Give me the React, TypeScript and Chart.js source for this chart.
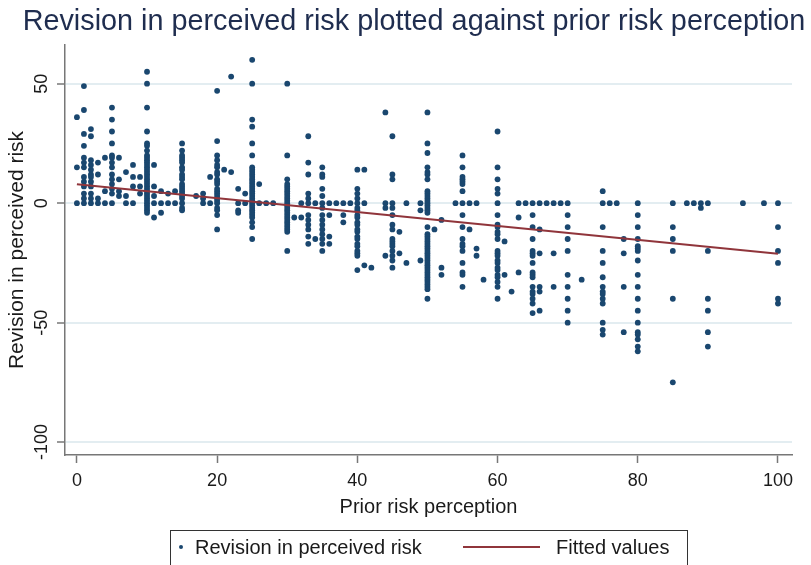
import React, { useEffect, useRef } from 'react';
import { Chart, registerables } from 'chart.js';

Chart.register(...registerables);

const titleText = 'Revision in perceived risk plotted against prior risk perception';
const xAxisLabel = 'Prior risk perception';
const yAxisLabel = 'Revision in perceived risk';
const seriesName = 'Revision in perceived risk';
const fitName = 'Fitted values';

const xTicks = [0, 20, 40, 60, 80, 100];
const yTicks = [-100, -50, 0, 50];

// prior risk perception values (x) and the revisions observed at each (y)
const priorRisk = [
  0, 1, 2, 3, 4, 5, 6, 7, 8, 9, 10, 11, 12, 13, 14, 15, 17, 18, 19, 20, 21, 22, 23, 24, 25, 26, 27, 28,
  30, 31, 32, 33, 34, 35, 36, 37, 38, 39, 40, 41, 42, 44, 45, 46, 47, 49, 50, 51, 52, 54, 55, 56, 57, 58,
  60, 61, 62, 63, 64, 65, 66, 67, 68, 69, 70, 72, 75, 76, 77, 78, 80, 85, 87, 88, 89, 90, 95, 98, 100,
];

const revision = [
  [36, 15, 0],
  [49, 39, 29, 24, 19, 17, 15, 11, 9, 7, 4, 2, 0],
  [31, 28, 18, 16, 14, 12, 11, 9, 7, 4, 2, 0],
  [17, 12, 2, 0],
  [19, 5, 0],
  [40, 35, 30, 25, 20, 19, 17, 15, 12, 10, 8, 6, 4, 0],
  [19, 10, 5, 3],
  [13, 3, 0],
  [16, 11, 7, 0],
  [11, 7, 4],
  [55, 50, 40, 30, 25, 24, 22, 20, 19, 18, 17, 16, 15, 14, 13, 12, 11, 10, 9, 8, 7, 6, 5, 4, 3, 2, 1, 0, -1, -2, -3, -4],
  [16, 7, 3, 0, -6],
  [5, 0, -4],
  [4, 0],
  [5, 0],
  [25, 22, 20, 19, 18, 17, 15, 14, 12, 11, 10, 8, 7, 6, 5, 4, 3, 2, 0, -2, -3],
  [3],
  [4, 2, 0],
  [11, 0],
  [47, 26, 20, 18, 16, 15, 13, 12, 10, 9, 8, 6, 5, 4, 3, 2, 1, 0, -2, -3, -5, -11],
  [14],
  [53, 13],
  [6, 0, -3, -4],
  [4, 0],
  [60, 50, 35, 32, 25, 20, 15, 14, 13, 12, 11, 10, 9, 8, 7, 6, 5, 4, 3, 2, 1, 0, -1, -2, -3, -4, -5, -6, -8, -10, -15],
  [8, 0],
  [0],
  [0],
  [50, 20, 10, 8, 7, 6, 5, 4, 3, 2, 1, 0, -1, -2, -3, -4, -5, -6, -7, -8, -9, -10, -11, -12, -20],
  [-6],
  [0, -6],
  [28, 17, 12, 4, 2, 0, -5, -7, -9, -11, -14, -17],
  [0, -15],
  [15, 12, 11, 6, 3, 0, -2, -5, -7, -9, -11, -13, -15, -17, -20],
  [0, -5, -14, -17],
  [0],
  [0, -5, -8],
  [0],
  [14, 6, 4, 2, 0, -2, -3, -5, -6, -8, -9, -11, -12, -14, -15, -17, -18, -20, -21, -22, -28],
  [14, 0, -26],
  [-27],
  [38, 0, -2, -22],
  [28, 12, 10, 0, -2, -5, -9, -11, -15, -16, -17, -18, -20, -22, -24, -27],
  [-12, -21],
  [0, -25],
  [0, -3, -24],
  [38, 25, 21, 15, 13, 12, 10, 5, 4, 3, 2, 1, 0, -1, -2, -3, -4, -10, -13, -14, -15, -16, -17, -18, -19, -20, -21, -22, -23, -24, -25, -26, -27, -28, -29, -30, -31, -32, -33, -34, -35, -36, -40],
  [-11],
  [-7, -27, -30],
  [0],
  [20, 15, 11, 10, 9, 8, 5, 0, -5, -10, -15, -17, -18, -20, -25, -29, -30, -35],
  [0, -11],
  [0, -19, -22],
  [-32],
  [30, 15, 10, 6, 4, 0, -5, -9, -10, -12, -13, -15, -20, -21, -22, -24, -25, -27, -28, -30, -31, -33, -35, -40],
  [-16, -30],
  [-37],
  [0, -6, -29],
  [0],
  [0, -5, -10, -15, -20, -21, -22, -25, -29, -30, -31, -35, -37, -38, -40, -42, -46],
  [0, -11, -21, -35, -37, -45],
  [0],
  [0, -21, -35],
  [0],
  [0, -5, -10, -15, -20, -30, -35, -40, -45, -50],
  [-32],
  [5, 0, -10, -20, -25, -31, -35, -37, -38, -40, -42, -50, -53, -55],
  [0],
  [0],
  [-15, -21, -35, -54],
  [0, -5, -10, -15, -18, -19, -20, -24, -30, -35, -40, -45, -50, -54, -55, -57, -60, -62],
  [0, -10, -15, -20, -40, -75],
  [0],
  [0],
  [0, -2],
  [0, -20, -40, -45, -54, -60],
  [0],
  [0],
  [0, -10, -20, -25, -40, -42],
];

const fitX = [0, 100];
const fitY = [7.9, -21.2];

const FONT = "'Liberation Sans', Arial, sans-serif";
const markerColor = '#1a476f';
const fitColor = '#90353b';
const textColor = '#1a1a1a';

const overlayPlugin = {
  id: 'overlay',
  afterDraw(chart: any) {
    const ctx = chart.ctx;
    const yScale = chart.scales.y;
    ctx.save();
    // title
    ctx.fillStyle = '#1f2d4f';
    ctx.font = `28.8px ${FONT}`;
    ctx.textAlign = 'center';
    ctx.textBaseline = 'middle';
    ctx.fillText(titleText, 414, 22);
    // rotated y tick labels
    ctx.fillStyle = textColor;
    ctx.font = `18px ${FONT}`;
    yTicks.forEach((v) => {
      const py = yScale.getPixelForValue(v);
      ctx.save();
      ctx.translate(42, py);
      ctx.rotate(-Math.PI / 2);
      ctx.fillText(String(v), 0, 0);
      ctx.restore();
    });
    // legend box
    ctx.strokeStyle = '#333';
    ctx.lineWidth = 1;
    ctx.strokeRect(170.5, 530.5, 517, 60);
    ctx.fillStyle = markerColor;
    ctx.beginPath();
    ctx.arc(181, 547, 2, 0, Math.PI * 2);
    ctx.fill();
    ctx.fillStyle = textColor;
    ctx.font = `20px ${FONT}`;
    ctx.textAlign = 'left';
    ctx.textBaseline = 'middle';
    ctx.fillText(chart.data.datasets[0].label, 195, 548);
    ctx.strokeStyle = fitColor;
    ctx.lineWidth = 2;
    ctx.beginPath();
    ctx.moveTo(463, 547);
    ctx.lineTo(540, 547);
    ctx.stroke();
    ctx.fillText(chart.data.datasets[1].label, 556, 548);
    ctx.restore();
  },
};

export default function App() {
  const ref = useRef<HTMLCanvasElement | null>(null);
  useEffect(() => {
    if (!ref.current) return;
    const points = priorRisk.flatMap((x, i) => revision[i].map((y) => ({ x, y })));
    const fit = fitX.map((x, i) => ({ x, y: fitY[i] }));
    const chart = new Chart(ref.current, {
      type: 'scatter',
      data: {
        datasets: [
          {
            label: seriesName,
            data: points,
            pointRadius: 2.9,
            pointBackgroundColor: markerColor,
            pointBorderColor: markerColor,
            pointBorderWidth: 0,
            showLine: false,
            order: 1,
          },
          {
            type: 'line',
            label: fitName,
            data: fit,
            borderColor: fitColor,
            borderWidth: 2,
            pointRadius: 0,
            showLine: true,
            fill: false,
            order: 0,
          } as any,
        ],
      },
      options: {
        animation: false,
        responsive: false,
        devicePixelRatio: 1,
        layout: { padding: { left: 0, right: 19, top: 45, bottom: 44 } },
        plugins: {
          legend: { display: false },
          tooltip: { enabled: false },
          title: { display: false },
        },
        scales: {
          x: {
            type: 'linear',
            min: -1.7,
            max: 102,
            afterBuildTicks: (s: any) => {
              s.ticks = xTicks.map((v) => ({ value: v }));
            },
            afterFit: (s: any) => {
              s.height = 66;
            },
            grid: { display: true, drawOnChartArea: false, drawTicks: true, tickLength: 8, tickColor: '#777', tickWidth: 1.5 },
            border: { display: true, color: '#777', width: 1.5 },
            ticks: { color: textColor, font: { family: FONT, size: 18 }, padding: 7, maxRotation: 0 },
            title: {
              display: true,
              text: xAxisLabel,
              color: textColor,
              font: { family: FONT, size: 20 },
              padding: { top: 4, bottom: 2 },
            },
          },
          y: {
            type: 'linear',
            min: -105.4,
            max: 66.2,
            afterBuildTicks: (s: any) => {
              s.ticks = yTicks.map((v) => ({ value: v }));
            },
            afterFit: (s: any) => {
              s.width = 65;
            },
            grid: { display: true, color: '#e3edf1', lineWidth: 2, drawTicks: true, tickLength: 8, tickColor: '#777', tickWidth: 1.5 },
            border: { display: true, color: '#777', width: 1.5 },
            ticks: { display: false },
            title: {
              display: true,
              text: yAxisLabel,
              color: textColor,
              font: { family: FONT, size: 21 },
              padding: { top: 5, bottom: 0 },
            },
          },
        },
      },
      plugins: [overlayPlugin],
    });
    return () => chart.destroy();
  }, []);
  return (
    <div style={{ position: 'absolute', left: 0, top: 0, width: 811, height: 565, background: '#fff' }}>
      <canvas ref={ref} width={811} height={565} style={{ display: 'block' }} />
    </div>
  );
}
